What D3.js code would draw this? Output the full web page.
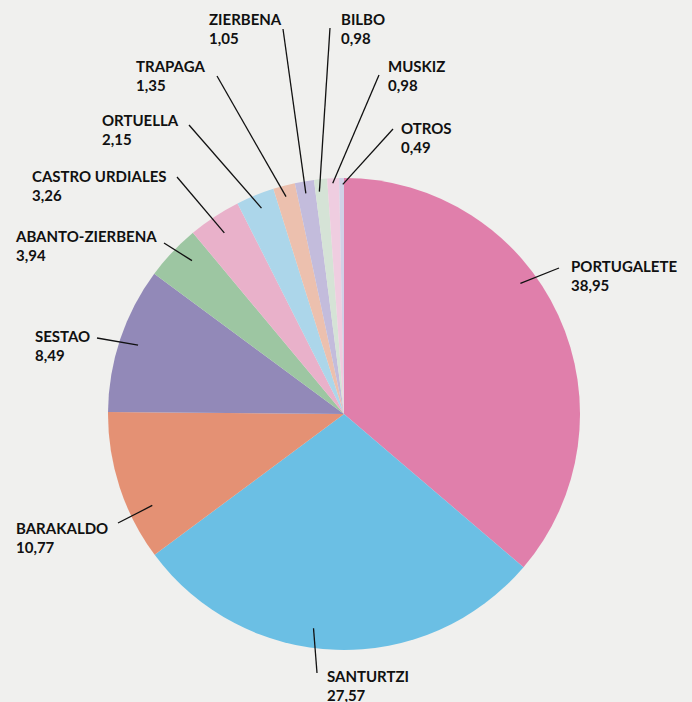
<!DOCTYPE html>
<html>
<head>
<meta charset="utf-8">
<script src="https://cdn.jsdelivr.net/npm/d3@7"></script>
<style>
  html, body { margin: 0; padding: 0; background: #f0f0ee; }
  svg { display: block; }
  .lbl { font-family: Lato, "Open Sans", sans-serif; font-weight: 700; font-size: 15px; fill: #111; }
</style>
</head>
<body>
<svg id="chart"></svg>
<script>
// DATA
const towns = ["PORTUGALETE", "SANTURTZI", "BARAKALDO", "SESTAO", "ABANTO-ZIERBENA",
  "CASTRO URDIALES", "ORTUELLA", "TRAPAGA", "ZIERBENA", "BILBO", "MUSKIZ", "OTROS"]
// printed values
const shareLabels = ["38,95", "27,57", "10,77", "8,49", "3,94", "3,26", "2,15", "1,35", "1,05", "0,98", "0,98", "0,49"]
// slice sizes as drawn in the picture (%)
const sliceShares = [36.25, 28.58, 10.31, 10.0, 3.81, 3.61, 2.61, 1.5, 1.31, 0.89, 0.81, 0.33]
const colours = ["#e07fab", "#6bbfe4", "#e49174", "#9289b8", "#9dc6a2", "#e9b1ca",
  "#acd6ea", "#ecc0ae", "#c3bcdc", "#d5e3d6", "#efcde0", "#d0d1e7"]

// label layout: text position, line outer end, line inner (fraction of slice, fraction of radius)
const labelPos = [[571, 272], [327, 682], [16, 534], [35, 342], [16, 242], [32, 182],
  [102, 126], [136, 72], [209, 25], [341, 25], [388, 72], [401, 134]]
const lineOuter = [[559, 268], [317, 673], [118, 523], [97, 338], [164, 243], [177, 177],
  [189, 125], [217, 76], [283, 29], [330, 28], [379, 75], [393, 129]]
const lineInner = [[0.41, 0.93], [0.56, 0.917], [0.30, 0.9], [0.5, 0.92], [0.64, 0.915], [0.49, 0.92],
  [0.53, 0.94], [0.46, 0.953], [0.47, 0.949], [0.31, 0.948], [0.45, 0.979], [0.75, 0.973]]

let width = 692, height = 702
let cx = 344, cy = 414, radius = 236

let svg = d3.select('#chart')
  .attr('width', width)
  .attr('height', height)

let chart = svg.append('g')
  .attr('transform', `translate(${cx},${cy})`)

let pie = d3.pie().sort(null).value(d => d)
let arcs = pie(sliceShares)

let arc = d3.arc().innerRadius(0).outerRadius(radius)

// SLICES
chart.selectAll('path')
  .data(arcs)
  .join('path')
  .attr('d', arc)
  .attr('fill', (d, i) => colours[i])

// LEADER LINES
arcs.forEach(function(a, i) {
  let ang = a.startAngle + lineInner[i][0] * (a.endAngle - a.startAngle)
  let r = lineInner[i][1] * radius
  let x1 = cx + Math.sin(ang) * r
  let y1 = cy - Math.cos(ang) * r
  svg.append('line')
    .attr('x1', x1).attr('y1', y1)
    .attr('x2', lineOuter[i][0]).attr('y2', lineOuter[i][1])
    .attr('stroke', '#111')
    .attr('stroke-width', 1.3)
})

// LABELS
let labels = svg.selectAll('text.lbl')
  .data(towns)
  .join('text')
  .attr('class', 'lbl')
  .attr('x', (d, i) => labelPos[i][0])
  .attr('y', (d, i) => labelPos[i][1])

labels.append('tspan').text(d => d)
labels.append('tspan')
  .attr('x', (d, i) => labelPos[i][0])
  .attr('dy', 19)
  .text((d, i) => shareLabels[i])
</script>
</body>
</html>
